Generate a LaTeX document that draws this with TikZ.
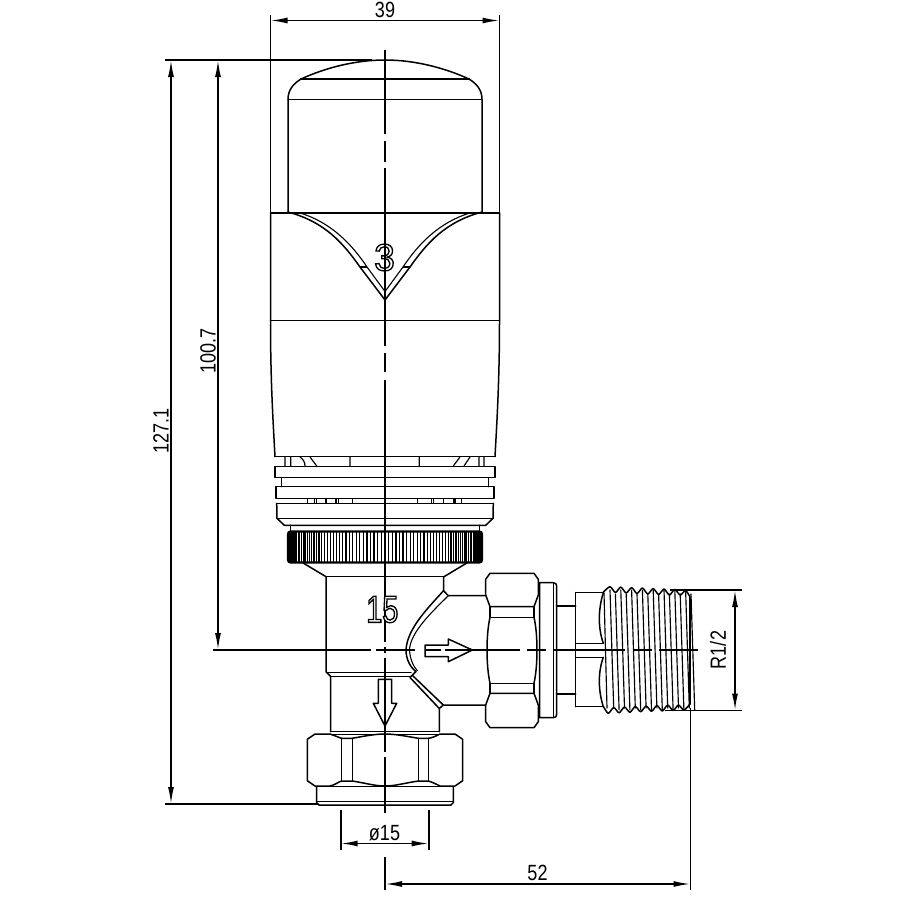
\documentclass[tikz,border=0pt]{standalone}
\usepackage{fontspec}
\usetikzlibrary{arrows.meta}
\setmainfont{Liberation Sans}
\newfontfamily\dimfont[FakeStretch=0.82]{Liberation Sans}
\newfontfamily\embfont[FakeStretch=0.76,FakeBold=3.5]{Liberation Sans}
\newfontfamily\embwide[FakeStretch=0.98,FakeBold=3.5]{Liberation Sans}
\newcommand{\outlined}[1]{\special{pdf:bcolor [1] [0]}#1\special{pdf:ecolor}}
\tikzset{
  part/.style={line width=1.5pt,line join=round,line cap=round},
  thinpart/.style={line width=1.1pt},
  threadln/.style={line width=1.15pt,line cap=round},
  centre/.style={line width=1.8pt},
  ext/.style={line width=1.6pt},
  dimln/.style={line width=1.6pt,{Latex[length=17pt,width=6pt]}-{Latex[length=17pt,width=6pt]}},
  dimtxt/.style={font=\dimfont\fontsize{22}{22}\selectfont,inner sep=0pt},
  emb/.style={font=\embfont\fontsize{38}{38}\selectfont,inner sep=0pt},
  embw/.style={font=\embwide\fontsize{38}{38}\selectfont,inner sep=0pt}
}
\begin{document}
\begin{tikzpicture}[x=1pt,y=-1pt]
\useasboundingbox (0,0) rectangle (900,900);
% ---- dimension anchors
\coordinate (wL) at (270.5,20.5); \coordinate (wR) at (499.5,20.5);
\coordinate (h1T) at (171,60); \coordinate (h1B) at (171,804);
\coordinate (h2T) at (218,60); \coordinate (h2B) at (218,650);
\coordinate (rT) at (735,590); \coordinate (rB) at (735,710.5);
\coordinate (dL) at (340.7,843.5); \coordinate (dR) at (428.7,843.5);
\coordinate (lL) at (385,884); \coordinate (lR) at (690.5,884);
% ---- head: symmetric parts
\foreach \s in {1,-1}{
\begin{scope}[shift={(385,0)},xscale=\s]
  \draw[part] (0,60) .. controls (-30,60) and (-60,68) .. (-84,79)
     .. controls (-92,84) and (-97,90) .. (-97,99.5) -- (-97,212);
  \draw[part] (-97,212) .. controls (-60,222) and (-42,243) .. (-25,267) -- (0,300);
  \draw[thinpart] (-85,213) .. controls (-55,222) and (-34,243) .. (-18,267) -- (0,291.5);
  \draw[thinpart] (-25,267) -- (-18,267);
  \draw[part] (-114.5,320.7) -- (-114.5,213) (-114.5,320.7) .. controls (-114.5,380) and (-112,420) .. (-110,456.7);
  % rings
  \draw[part] (-110,466.5) rectangle (0,477.5);
  \draw[part] (-103.7,477.5) -- (-103.7,486.7);
  \draw[part] (-109,486.7) rectangle (0,498.3);
  \draw[part] (-108.3,503.3) -- (-108,518.3) -- (-100.7,525.3) -- (0,525.3);
  \draw[part] (-108.3,503.3) -- (0,503.3);
  \draw[part] (-108,518.3) -- (0,518.3);
  \draw[part] (-94.3,525.3) -- (-94.3,531);
  \draw[part] (-82.3,562.7) -- (-59,576.7);
  \draw[part] (-110,456.7) -- (0,456.7);
\end{scope}}
\draw[part] (270.5,213) -- (499.5,213) (270.5,320.7) -- (499.5,320.7);
\draw[part] (300.7,79) -- (469.3,79) (288,99.5) -- (482,99.5);
% ring details
\draw[line width=1.2pt] (285,457)--(285,466) (290.7,457)--(290.7,466)
  (300,457) .. controls (303,459) and (305,462) .. (305,466) (310,457)--(316.7,466)
  (350,457)--(350,466) (419.3,457)--(419.3,466)
  (453.3,466)--(460,457) (464,466)--(470,457) (479,457)--(479,466) (484,457)--(484,466);
\draw[line width=1.2pt] (307.7,498.3)--(307.7,503.3) (314.3,498.3)--(314.3,503.3)
  (316.7,498.3)--(316.7,503.3) (326,498.3)--(326,503.3) (336,498.3)--(336,503.3)
  (338.3,498.3)--(338.3,503.3) (352.7,498.3)--(352.7,503.3) (417.3,498.3)--(417.3,503.3)
  (431.7,498.3)--(431.7,503.3) (433.3,498.3)--(433.3,503.3) (443.3,498.3)--(443.3,503.3)
  (453.3,498.3)--(453.3,503.3) (455,498.3)--(455,503.3) (461.7,498.3)--(461.7,503.3);
% knurled collar
\foreach \t in {-88,-85.8,...,88}{
  \pgfmathsetmacro{\kx}{385+95*sin(\t)}
  \draw[line width=1.35pt] (\kx,532) -- (\kx,562);
}
\fill (288,533) rectangle (293,561);
\fill (477,533) rectangle (482,561);
\draw[line width=2.2pt,rounded corners=2.5pt] (288,531.5) rectangle (482,562.5);
% ---- valve body
\draw[part] (326,576.7) -- (444,576.7);
\draw[part] (326,576.7) -- (326,671.7) -- (330.7,676.5) -- (330.7,731.7);
\draw[part] (326.5,672.3) -- (411,672.3) (330.7,676.7) -- (411,676.7);
\draw[part] (443.5,576.7) -- (443.5,590.7) -- (448.3,595.7) -- (485.7,595.7);
\draw[part] (443.5,590.7) .. controls (430,606) and (407,628) .. (406,650)
  .. controls (406,660) and (411,668) .. (416,671.5) -- (411,676.5);
\draw[thinpart] (448.3,595.7) .. controls (434,610) and (410,632) .. (409.5,650)
  .. controls (410,660) and (414,667) .. (417.5,671);
\draw[part] (410,677.5) -- (439.3,708.5) -- (439.3,731.7);
\draw[part] (413,676) -- (443.3,705) -- (485.7,705) (439.3,708.5) -- (443.3,705);
\draw[part] (330.7,731.7) -- (439.3,731.7) (330.7,734.3) -- (439.3,734.3);
% flow arrows
\draw[part] (425,645) -- (448.3,645) -- (448.3,639) -- (472.3,650) -- (448.3,661.7) -- (448.3,656.7) -- (425,656.7) -- cycle;
\draw[part] (378.3,679.3) -- (378.3,703.3) -- (373.3,703.3) -- (385,726) -- (396.7,703.3) -- (391.7,703.3) -- (391.7,679.3) -- cycle;
% ---- union nut (right)
\draw[part] (485.7,595) -- (485.7,579.3) -- (490,573.3) -- (534,573.3) -- (538.3,579.3) -- (538.3,595) -- (534,606.7) -- (490,606.7) -- cycle;
\draw[part] (490,606.7) -- (490,617.3) (534,606.7) -- (534,617.3) (490,617.3) -- (534,617.3);
\draw[part] (490,617.3) .. controls (486,635) and (486,665) .. (490,683.3);
\draw[part] (534,617.3) .. controls (538,635) and (538,665) .. (534,683.3);
\draw[part] (490,683.3) -- (534,683.3) (490,683.3) -- (490,693.3) (534,683.3) -- (534,693.3);
\draw[part] (490,693.3) -- (534,693.3) -- (538.3,705) -- (538.3,721.7) -- (534,727.7) -- (490,727.7) -- (485.7,721.7) -- (485.7,705) -- cycle;
\draw[part] (539.5,582.7) -- (553,582.7) .. controls (555.5,582.7) and (556.7,584) .. (556.7,586) -- (556.7,714.5) .. controls (556.7,716.5) and (555.5,717.7) .. (553,717.7) -- (539.5,717.7) -- cycle;
\draw[part] (553.5,583) -- (553.5,717);
\draw[part] (557,606) -- (575.7,606) (557,694) -- (575.7,694);
\draw[part] (575.7,592.7) -- (575.7,706.7);
\draw[part] (575.7,592.7) -- (603.3,592.7) (575.7,706.7) -- (603.3,706.7);
\draw[part] (575.7,643.3) -- (603,643.3) (575.7,657.3) -- (603,657.3);
\draw[part] (603.3,592.7) .. controls (598,610) and (598,628) .. (603.3,643.3);
\draw[part] (603.3,657.3) .. controls (598,672) and (598,690) .. (603.3,706.7);
% thread
\draw[part] plot[smooth,tension=.45] coordinates {(603.5,592) (610,586.7) (615.4,592.5) (620.8,587.1) (626.2,593) (631.6,587.6) (637,593.5) (642.4,588) (647.8,594) (653.2,588.5) (658.6,594.5) (664,589) (669.4,595) (674.8,589.5) (680.2,595) (685.6,590.5) (690,597)};
\draw[part] plot[smooth,tension=.45] coordinates {(603.5,706.7) (608.3,713.3) (613.7,707.5) (619.1,712.8) (624.5,707) (629.9,712.3) (635.3,706.5) (640.7,711.8) (646.1,706) (651.5,711.3) (656.9,705.5) (662.3,711) (667.7,705) (673.1,710.5) (678.5,705) (683.9,710) (690,704)};
\draw[part] (690,597) -- (690,704);
\draw[threadln] (604,593) -- (607,708);
\foreach \i in {0,...,7}{
  \draw[threadln] ({610+10.8*\i},590) -- ({613.7+10.8*\i},708);
  \draw[threadln] ({615.4+10.8*\i},594) -- ({619.1+10.8*\i},710);
}
% ---- compression nut (bottom)
\draw[part] (307.3,739.3) -- (315,734) -- (330,734) .. controls (336,736) and (340,738) .. (341.7,738.3) -- (352.3,738.3)
  .. controls (365,736) and (375,734) .. (385,734) .. controls (395,734) and (405,736) .. (418.3,738.3) -- (428.3,738.3)
  .. controls (432,738) and (436,736) .. (440,734) -- (455,734) -- (462.7,739.3) -- (462.7,780.7) -- (455,786)
  -- (440,786) .. controls (436,784) and (432,782) .. (428.3,781) -- (418.3,781)
  .. controls (405,783) and (395,786) .. (385,786) .. controls (375,786) and (365,783) .. (352.3,781) -- (341.7,781)
  .. controls (338,782) and (335,785) .. (330,786) -- (315,786) -- (307.3,780.7) -- cycle;
\draw[part] (341.7,738.3) -- (341.7,781) (352.3,738.3) -- (352.3,781) (418.3,738.3) -- (418.3,781) (428.3,738.3) -- (428.3,781);
\draw[part] (316,786.7) -- (454,786.7);
\draw[part] (316.7,786.7) -- (316.7,802.5) -- (319,805) -- (451,805) -- (453.3,802.5) -- (453.3,786.7);
\draw[part] (316.7,801.7) -- (453.3,801.7);
% ---- embossed 3, then centre lines
\node[embw] (three) at (384.5,257.5) {\outlined{3}};
\draw[centre] (385,50) -- (385,134) (385,141) -- (385,162) (385,168) -- (385,346) (385,353) -- (385,372) (385,380) -- (385,642)
  (385,647) -- (385,653) (385,658) -- (385,752) (385,757) -- (385,813) (385,857) -- (385,890);
\draw[centre] (213,650) -- (371,650) (376,650) -- (415,650) (425,650) -- (441,650) (445,650) -- (520,650)
  (527,650) -- (546,650) (554,650) -- (625,650) (633,650) -- (652,650) (659,650) -- (698,650);
\node[emb] (fifteen) at (382.3,609.5) {\outlined{15}};
% ---- extension lines
\draw[ext] (270.5,15) -- (270.5,213) (499.5,15) -- (499.5,213);
\draw[ext] (165,60) -- (212,60);
\draw[line width=2.4pt] (212,60) -- (372,60);
\draw[ext] (165,804) -- (318,804);
\draw[ext] (670,590) -- (741.7,590) (665,710.5) -- (741.7,710.5);
\draw[ext] (340.7,810) -- (340.7,849.5) (428.7,810) -- (428.7,849.5);
\draw[ext] (690.5,708) -- (690.5,890);
% ---- dimensions
\draw[dimln] (wL) -- node[dimtxt,pos=.5,yshift=10.5pt] (t39) {39} (wR);
\draw[dimln] (h1T) -- (h1B);
\draw[dimln] (h2T) -- (h2B);
\draw[dimln] (rT) -- (rB);
\draw[dimln] (dL) -- (dR);
\draw[dimln] (lL) -- (lR);
\node[dimtxt,rotate=90] (t1271) at (161,431) {127.1};
\node[dimtxt,rotate=90] (t1007) at (208,351) {100.7};
\node[dimtxt,rotate=90] (tR) at (718,650) {R1/2};
\node[dimtxt] (tphi) at (384.5,833) {ø15};
\node[dimtxt] (t52) at (537.5,873) {52};
\end{tikzpicture}
\end{document}
